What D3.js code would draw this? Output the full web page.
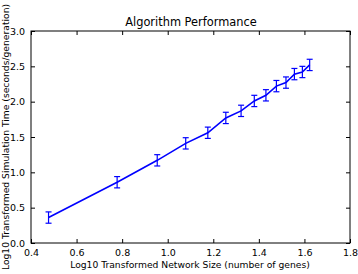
<!DOCTYPE html>
<html lang="en">
<head>
<meta charset="UTF-8">
<title>Algorithm Performance</title>
<script src="https://d3js.org/d3.v7.min.js"></script>
<style>
    body { margin: 0; background: #fff; }
    svg text { font-family: "DejaVu Sans", sans-serif; fill: #000; }
</style>
</head>
<body>
<svg width="358" height="274"></svg>
<script>
    // data
    const networkSize = [0.477, 0.778, 0.954, 1.079, 1.176, 1.255, 1.322, 1.380, 1.431, 1.477, 1.519, 1.556, 1.591, 1.623];
    const simTime = [0.36, 0.86, 1.17, 1.41, 1.56, 1.77, 1.87, 2.01, 2.09, 2.22, 2.27, 2.39, 2.42, 2.52];
    const simErr = [0.08, 0.08, 0.08, 0.08, 0.08, 0.08, 0.08, 0.08, 0.08, 0.08, 0.08, 0.08, 0.08, 0.08];
    const xTicks = [0.4, 0.6, 0.8, 1.0, 1.2, 1.4, 1.6, 1.8];
    const yTicks = [0.0, 0.5, 1.0, 1.5, 2.0, 2.5, 3.0];

    const svg = d3.select("svg");
    const m = { left: 31, right: 8, top: 31, bottom: 31 };
    const W = 358, H = 274;

    const x = d3.scaleLinear().domain([0.4, 1.8]).range([m.left, W - m.right]);
    const y = d3.scaleLinear().domain([0, 3]).range([H - m.bottom, m.top]);

    const pts = networkSize.map((v, i) => ({ x: v, y: simTime[i], e: simErr[i] }));

    // line
    svg.append("path")
        .datum(pts)
        .attr("fill", "none")
        .attr("stroke", "#0000ff")
        .attr("stroke-width", 1.6)
        .attr("d", d3.line().x(d => x(d.x)).y(d => y(d.y)));

    // error bars
    const eb = svg.append("g").attr("stroke", "#0000ff").attr("stroke-width", 1.2);
    eb.selectAll("line.v").data(pts).enter().append("line")
        .attr("x1", d => x(d.x)).attr("x2", d => x(d.x))
        .attr("y1", d => y(d.y - d.e)).attr("y2", d => y(d.y + d.e));
    eb.selectAll("line.lo").data(pts).enter().append("line")
        .attr("x1", d => x(d.x) - 3).attr("x2", d => x(d.x) + 3)
        .attr("y1", d => y(d.y - d.e)).attr("y2", d => y(d.y - d.e));
    eb.selectAll("line.hi").data(pts).enter().append("line")
        .attr("x1", d => x(d.x) - 3).attr("x2", d => x(d.x) + 3)
        .attr("y1", d => y(d.y + d.e)).attr("y2", d => y(d.y + d.e));

    // axes, ticks pointing inward on all four sides
    const fmt = d3.format(".1f");
    const tickLen = 4;
    svg.append("g").attr("transform", `translate(0,${H - m.bottom})`)
        .call(d3.axisBottom(x).tickValues(xTicks).tickFormat(fmt).tickSizeInner(-tickLen).tickSizeOuter(0).tickPadding(6))
        .call(g => g.select(".domain").remove())
        .selectAll("text").attr("font-size", 9.5);
    svg.append("g").attr("transform", `translate(0,${m.top})`)
        .call(d3.axisTop(x).tickValues(xTicks).tickFormat("").tickSizeInner(-tickLen).tickSizeOuter(0))
        .call(g => g.select(".domain").remove());
    svg.append("g").attr("transform", `translate(${m.left},0)`)
        .call(d3.axisLeft(y).tickValues(yTicks).tickFormat(fmt).tickSizeInner(-tickLen).tickSizeOuter(0).tickPadding(6))
        .call(g => g.select(".domain").remove())
        .selectAll("text").attr("font-size", 9.5);
    svg.append("g").attr("transform", `translate(${W - m.right},0)`)
        .call(d3.axisRight(y).tickValues(yTicks).tickFormat("").tickSizeInner(-tickLen).tickSizeOuter(0))
        .call(g => g.select(".domain").remove());

    svg.append("rect")
        .attr("x", m.left).attr("y", m.top)
        .attr("width", W - m.left - m.right).attr("height", H - m.top - m.bottom)
        .attr("fill", "none").attr("stroke", "#000").attr("stroke-width", 1);

    // labels
    svg.append("text").attr("x", 191).attr("y", 26)
        .attr("text-anchor", "middle").attr("font-size", 11.4)
        .text("Algorithm Performance");
    svg.append("text").attr("x", 190).attr("y", 268)
        .attr("text-anchor", "middle").attr("font-size", 9.2)
        .text("Log10 Transformed Network Size (number of genes)");
    svg.append("text")
        .attr("transform", `translate(8.5,${(m.top + H - m.bottom) / 2}) rotate(-90)`)
        .attr("text-anchor", "middle").attr("font-size", 9.2)
        .text("Log10 Transformed Simulation Time (seconds/generation)");
</script>
</body>
</html>
